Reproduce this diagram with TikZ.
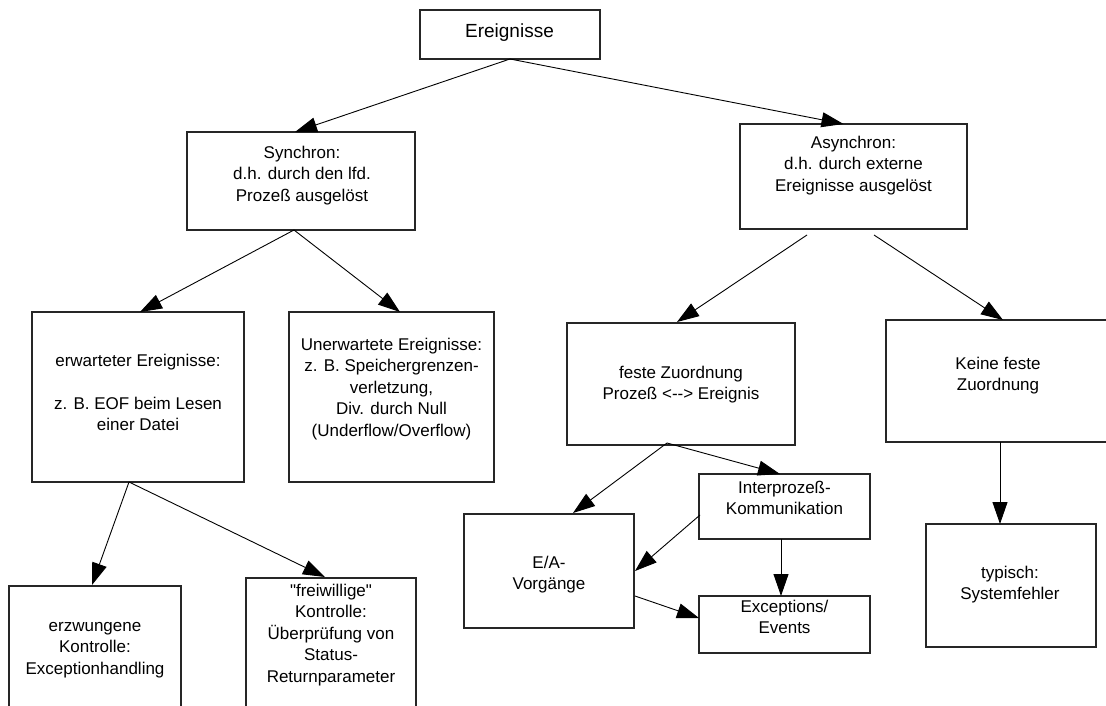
\documentclass[tikz,border=0pt]{standalone}
\usepackage{fontspec}
\setmainfont{Liberation Sans}[Ligatures=TeXOff]
\usetikzlibrary{arrows.meta,calc}
\begin{document}
\begin{tikzpicture}[x=1pt,y=-1pt,
  box/.style={draw=black!85,line width=1.1pt,rectangle,inner sep=0pt,outer sep=0pt},
  txt/.style={font=\fontsize{17}{21.5}\selectfont,align=center,inner sep=0pt,anchor=north},
  conn/.style={draw=black,line width=0.9pt,-{Triangle[length=22pt,width=15pt]}}]
\useasboundingbox (0,0) rectangle (1106,706);
\clip (0,0) rectangle (1106,706);
% boxes
\node[box,minimum width=180pt,minimum height=49pt] (ere) at (510,34.5) {};
\node[box,minimum width=228pt,minimum height=98pt] (syn) at (301,181) {};
\node[box,minimum width=227pt,minimum height=105pt] (asy) at (853.5,176.5) {};
\node[box,minimum width=212pt,minimum height=170pt] (erw) at (138,397) {};
\node[box,minimum width=205pt,minimum height=170pt] (unr) at (391.5,397) {};
\node[box,minimum width=228pt,minimum height=122pt] (fes) at (681,384) {};
\node[box,minimum width=224pt,minimum height=122pt] (kei) at (998,381) {};
\node[box,minimum width=171pt,minimum height=65pt] (ipk) at (784.5,506.5) {};
\node[box,minimum width=170pt,minimum height=114pt] (ea) at (549,571) {};
\node[box,minimum width=171pt,minimum height=57pt] (exc) at (784.5,624.5) {};
\node[box,minimum width=170pt,minimum height=123pt] (typ) at (1011,585.5) {};
\node[box,minimum width=172pt,minimum height=134pt] (erz) at (95,653) {};
\node[box,minimum width=170pt,minimum height=142pt] (fre) at (331,649) {};
% texts
\node[font=\fontsize{19}{23}\selectfont,inner sep=0pt,anchor=base] (eret) at (509.5,38) {Ereignisse};
\node[txt] (synt) at (302,143) {\strut Synchron:\\\strut d.h. durch den lfd.\\\strut Proze\ss{} ausgel\"ost};
\node[txt] (asyt) at (853.5,133) {\strut Asynchron:\\\strut d.h. durch externe\\\strut Ereignisse ausgel\"ost};
\node[txt] (erwt) at (138,351) {\strut erwarteter Ereignisse:\\\strut\\\strut z. B. EOF beim Lesen\\\strut einer Datei};
\node[txt] (unrt) at (391.5,335) {\strut Unerwartete Ereignisse:\\\strut z. B. Speichergrenzen-\\\strut verletzung,\\\strut Div. durch Null\\\strut (Underflow/Overflow)};
\node[txt] (fest) at (681,363) {\strut feste Zuordnung\\\strut Proze\ss{} <-\kern0pt-\kern0pt> Ereignis};
\node[txt] (ipkt) at (784.5,478) {\strut Interproze\ss-\\\strut Kommunikation};
\node[txt] (eat) at (549,553) {\strut E/A-\\\strut Vorg\"ange};
\node[txt] (exct) at (784.5,597) {\strut Exceptions/\\\strut Events};
\node[txt] (keit) at (998,354) {\strut Keine feste\\\strut Zuordnung};
\node[txt] (typt) at (1010,563) {\strut typisch:\\\strut Systemfehler};
\node[txt] (erzt) at (95,616) {\strut erzwungene\\\strut Kontrolle:\\\strut Exceptionhandling};
\node[txt] (fret) at (331,581) {\strut "freiwillige"\\\strut Kontrolle:\\\strut \"Uberpr\"ufung von\\\strut Status-\\\strut Returnparameter};
% helper coordinates
\coordinate (kst) at ($(kei.south)+(2,0)$);
\coordinate (ist) at ($(ipk.south)+(-3.5,0)$);
% connectors
\draw[conn] (ere.south) -- ($(syn.north)+(-6,0)$);
\draw[conn] (ere.south) -- ($(asy.north)+(-10,0)$);
\draw[conn] ($(syn.south)+(-7,0)$) -- ($(erw.north)+(2,0)$);
\draw[conn] ($(syn.south)+(-7,0)$) -- ($(unr.north)+(8.5,0)$);
\draw[conn] ($(asy.south)+(-46.5,6)$) -- ($(fes.north)+(-4,-1)$);
\draw[conn] ($(asy.south)+(20.5,6)$) -- ($(kei.north)+(5,0)$);
\draw[conn] (kst) -- (kst |- typ.north);
\draw[conn] ($(erw.south)+(-9,0)$) -- ($(erz.north)+(-3,-1)$);
\draw[conn] ($(erw.south)+(-9,0)$) -- ($(fre.north)+(-6,-1)$);
\draw[conn] ($(fes.south)+(-14,-2)$) -- ($(ea.north)+(24,-1)$);
\draw[conn] ($(fes.south)+(-14,-2)$) -- ($(ipk.north)+(-4.5,0)$);
\draw[conn] ($(ipk.west)+(1,8.5)$) -- ($(ea.east)+(1,0)$);
\draw[conn] (ist) -- (ist |- exc.north);
\draw[conn] ($(ea.east)+(1,25)$) -- ($(exc.west)+(0,-6.5)$);
\end{tikzpicture}
\end{document}
